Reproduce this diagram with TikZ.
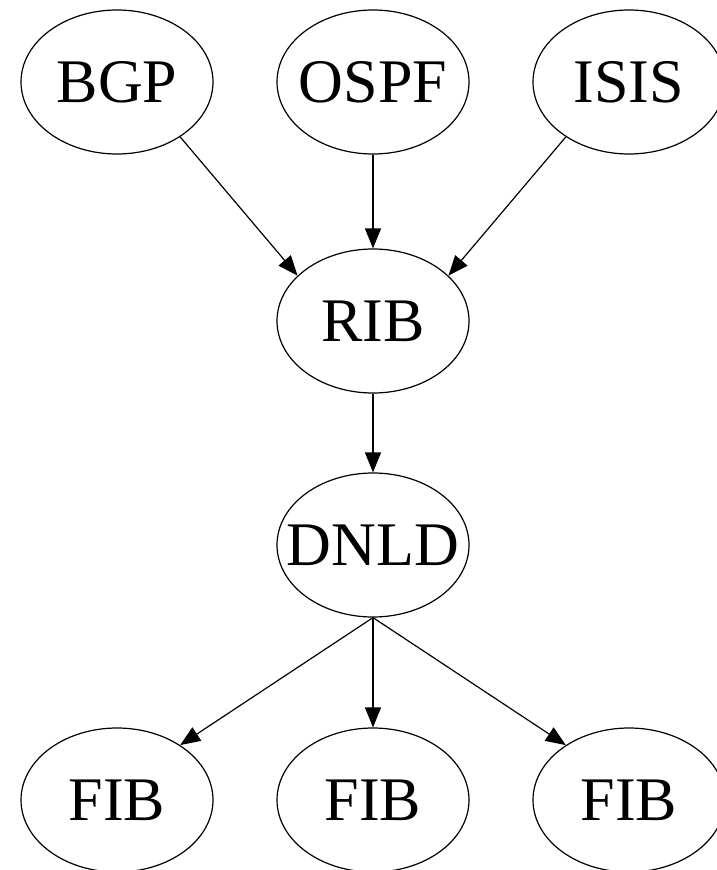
\documentclass[tikz,border=0pt]{standalone}
\usepackage{fontspec}
\setmainfont{Liberation Serif}
\usepackage{tikz}
\usetikzlibrary{arrows.meta,shapes.geometric}

\begin{document}
\begin{tikzpicture}[x=1pt,y=1pt,
  proc/.style={draw,ellipse,line width=1.2pt,minimum width=192pt,minimum height=144pt,
    inner xsep=-20pt,inner ysep=0pt,font=\fontsize{62}{62}\selectfont},
  flow/.style={line width=1.2pt,-{Triangle[length=20pt,width=16pt]}}]
  \useasboundingbox (0,0) rectangle (717,-870);
  \node[proc] (bgp) at (117,-82) {BGP};
  \node[proc] (ospf) at (373,-82) {OSPF};
  \node[proc] (isis) at (629,-82) {ISIS};
  \node[proc] (rib) at (373,-321) {RIB};
  \node[proc] (dnld) at (373,-545) {DNLD};
  \node[proc] (fiba) at (117,-800) {FIB};
  \node[proc] (fibb) at (373,-800) {FIB};
  \node[proc] (fibc) at (629,-800) {FIB};
  \draw[flow] (bgp.-41) -- (rib.149);
  \draw[flow] (ospf.south) -- (rib.north);
  \draw[flow] (isis.-139) -- (rib.31);
  \draw[flow] (rib.south) -- (dnld.north);
  \draw[flow] (dnld.south) -- (fiba.41);
  \draw[flow] (dnld.south) -- (fibb.north);
  \draw[flow] (dnld.south) -- (fibc.139);
\end{tikzpicture}
\end{document}
